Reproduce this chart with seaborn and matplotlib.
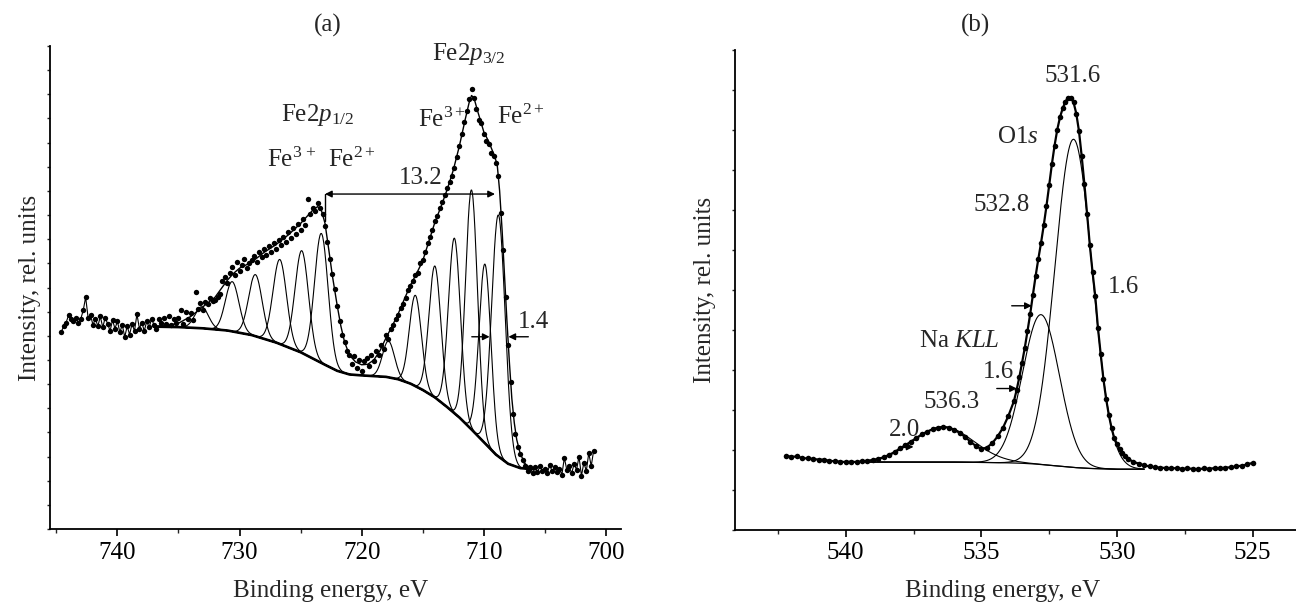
import numpy as np
import seaborn as sns
import matplotlib.pyplot as plt
from matplotlib.ticker import MultipleLocator

# ---------------- (a) Fe2p ----------------
# measured points, 0.2 eV grid starting at 744.6 eV (read off the picture)
fe_start, fe_step = 744.6, 0.2
fe_counts = [
    8.15, 8.40, 8.55, 8.85, 8.70, 8.60, 8.75, 8.55, 8.70, 9.05,
    9.60, 8.75, 8.85, 8.45, 8.70, 8.40, 8.80, 8.35, 8.75, 8.50,
    8.20, 8.65, 8.30, 8.60, 8.15, 8.45, 7.95, 8.40, 8.05, 8.50,
    8.20, 8.90, 8.30, 8.55, 8.20, 8.60, 8.35, 8.70, 8.45,
    8.30, 8.70, 8.55, 8.75, 8.50, 8.80, 8.45, 8.70, 8.55, 8.75,
    9.05, 8.50, 9.00, 8.70, 8.95, 8.65, 9.80, 9.10, 9.35, 9.05,
    9.40, 9.30, 9.55, 9.45, 9.50, 9.60, 9.75, 10.25, 10.45, 10.20,
    10.60, 10.85, 10.50, 11.05, 10.70, 10.95, 11.20, 10.80, 11.00, 11.15,
    11.30, 11.05, 11.45, 11.25, 11.60, 11.35, 11.70, 11.45, 11.85, 11.60,
    11.95, 11.75, 12.10, 11.90, 12.30, 12.05, 12.45, 12.20, 12.65, 12.40,
    12.85, 12.60, 13.65, 13.05, 13.30, 13.15, 13.50, 13.30, 13.05,
    12.55, 11.90, 11.20, 10.55, 9.95, 9.25, 8.60, 8.05, 7.75, 7.35,
    7.20, 6.85, 7.15, 6.65, 7.00, 6.55, 6.95, 7.10, 6.75, 7.20,
    6.95, 7.35, 7.20, 7.60, 7.45, 8.05, 7.85, 8.30, 8.45, 8.70,
    8.85, 9.15, 9.30, 9.55, 9.90, 10.05, 10.25, 10.50, 10.60, 11.00,
    11.15, 11.45, 11.85, 12.10, 12.40, 12.75, 12.95, 13.30, 13.55, 13.85,
    14.10, 14.35, 14.60, 14.95, 15.40, 15.85,
    16.35, 16.85, 17.30, 17.80, 18.20, 17.85, 17.40, 16.95, 16.80, 16.35,
    16.05, 15.95, 15.55, 15.45, 15.15, 14.60, 13.10, 11.55, 9.60, 7.60,
    6.10, 4.75, 3.95, 3.40, 3.10,
    2.85, 2.60, 2.40, 2.55, 2.30, 2.55, 2.35, 2.60, 2.40, 2.50,
    2.30, 2.65, 2.40, 2.55, 2.35, 2.50, 2.25, 2.95, 2.45, 2.60,
    2.30, 2.70, 2.45, 3.00, 2.20, 2.75, 2.40, 3.15, 2.60, 3.25,
]
fe_energy = np.round(fe_start - fe_step * np.arange(len(fe_counts)), 1)

# fitted envelope
fe_fit_energy = [737.0, 736.0, 735.0, 734.0, 733.0, 732.0, 731.5, 731.0, 730.5, 730.0,
                 729.0, 728.0, 727.0, 726.0, 725.0, 724.5, 724.0, 723.6, 723.3, 723.0,
                 722.7, 722.4, 722.0, 721.7, 721.4, 721.0, 720.5, 720.0, 719.5, 719.0,
                 718.5, 718.0, 717.5, 717.0, 716.5, 716.0, 715.5, 715.0, 714.5, 714.0,
                 713.5, 713.0, 712.5, 712.0, 711.5, 711.2, 711.0, 710.8, 710.5, 710.2,
                 710.0, 709.6, 709.2, 708.9, 708.7, 708.5, 708.3, 708.1, 707.9, 707.7,
                 707.5, 707.3, 707.0, 706.6, 706.2, 705.8]
fe_fit_counts = [8.40, 8.42, 8.52, 8.80, 9.20, 9.60, 9.95, 10.30, 10.58, 10.80,
                 11.05, 11.45, 11.78, 12.18, 12.65, 12.93, 13.20, 13.35, 13.20, 12.66,
                 11.60, 10.50, 9.25, 8.40, 7.75, 7.20, 6.92, 6.80, 6.82, 7.00,
                 7.38, 7.92, 8.40, 8.92, 9.52, 10.10, 10.58, 11.10, 11.90, 12.70,
                 13.35, 14.05, 14.85, 15.85, 17.00, 17.65, 17.95, 17.85, 17.30, 16.80,
                 16.45, 16.05, 15.55, 15.10, 14.00, 12.40, 10.50, 8.60, 6.90, 5.40,
                 4.40, 3.70, 3.10, 2.70, 2.52, 2.48]

# background
fe_bg_energy = [737.0, 735.0, 733.0, 731.0, 729.0, 727.0, 725.0, 723.0, 722.0, 721.0,
                720.0, 719.0, 718.0, 717.0, 716.0, 715.0, 714.0, 713.0, 712.0, 711.0,
                710.0, 709.0, 708.0, 707.0, 706.0, 705.8]
fe_bg_counts = [8.38, 8.36, 8.31, 8.22, 8.03, 7.72, 7.32, 6.80, 6.55, 6.40,
                6.36, 6.33, 6.30, 6.20, 6.02, 5.76, 5.45, 5.05, 4.62, 4.12,
                3.60, 3.08, 2.70, 2.52, 2.48, 2.48]

# fitted components: position, height above background, FWHM
fe_peak_pos = [733.1, 730.6, 728.7, 726.7, 724.9, 723.3,
               717.8, 715.6, 714.0, 712.4, 711.0, 709.9, 708.8]
fe_peak_height = [0.89, 2.06, 2.55, 3.50, 4.23, 5.36,
                  1.50, 3.76, 5.44, 7.25, 9.92, 7.42, 10.0]
fe_peak_fwhm = [1.3, 1.3, 1.3, 1.3, 1.3, 1.3,
                1.15, 1.15, 1.15, 1.15, 1.15, 1.15, 1.3]

# ---------------- (b) O1s ----------------
o_counts_left = [1.86, 1.83, 1.84, 1.80, 1.79, 1.78, 1.76, 1.76, 1.73, 1.72,
                 1.71, 1.70, 1.71, 1.70, 1.72, 1.73, 1.75, 1.78, 1.82, 1.88,
                 1.95, 2.04, 2.12, 2.21, 2.30, 2.39, 2.46, 2.52, 2.56, 2.58,
                 2.56, 2.51, 2.43, 2.33, 2.21, 2.10, 2.03, 2.06, 2.17, 2.34,
                 2.56, 2.86]           # 542.2 ... 534.0, step 0.2
o_counts_peak = [3.22, 3.50, 3.82, 4.18, 4.55, 4.97, 5.40, 5.88, 6.35,
                 6.78, 7.18, 7.62, 8.10, 8.62, 9.15, 9.62, 10.02, 10.33, 10.55,
                 10.72, 10.82, 10.82, 10.70, 10.42, 9.98, 9.35, 8.65, 7.90, 7.12,
                 6.45, 5.85, 5.05, 4.40, 3.78, 3.28, 2.88, 2.55, 2.30, 2.15,
                 2.02, 1.92, 1.85, 1.78]  # 533.8 ... 529.6, step 0.1
o_counts_right = [1.71, 1.66, 1.62, 1.59, 1.57, 1.56, 1.55, 1.54, 1.55, 1.53,
                  1.54, 1.53, 1.52, 1.54, 1.53, 1.55, 1.54, 1.56, 1.57, 1.59,
                  1.61, 1.64, 1.68]      # 529.4 ... 525.0, step 0.2
o_energy = np.concatenate([
    np.round(542.2 - 0.2 * np.arange(len(o_counts_left)), 1),
    np.round(533.8 - 0.1 * np.arange(len(o_counts_peak)), 1),
    np.round(529.4 - 0.2 * np.arange(len(o_counts_right)), 1),
])
o_counts = np.array(o_counts_left + o_counts_peak + o_counts_right)

o_bg_energy = [539.2, 538.0, 537.0, 536.0, 535.0, 534.0, 533.5, 533.0, 532.5, 532.0,
               531.5, 531.0, 530.5, 530.0, 529.0]
o_bg_counts = [1.70, 1.70, 1.70, 1.70, 1.69, 1.68, 1.67, 1.65, 1.62, 1.59,
               1.56, 1.54, 1.53, 1.52, 1.52]

o_peak_pos = [536.4, 532.8, 531.6]
o_peak_height = [0.88, 3.75, 8.21]
o_peak_fwhm = [2.6, 1.6, 1.62]

# ---------------- style ----------------
sns.set_theme(style="ticks")
plt.rcParams["font.family"] = ["Liberation Serif", "DejaVu Serif"]
plt.rcParams["mathtext.fontset"] = "custom"
plt.rcParams["mathtext.rm"] = "Liberation Serif"
plt.rcParams["mathtext.it"] = "Liberation Serif:italic"
plt.rcParams["font.size"] = 18
plt.rcParams["axes.linewidth"] = 1.3

fig = plt.figure(figsize=(12.96, 6.08), dpi=100)
ax_a = fig.add_axes([0.03858, 0.12993, 0.44059, 0.79441])
ax_b = fig.add_axes([0.56736, 0.12829, 0.43264, 0.78882])

K = 4 * np.log(2)


def draw_components(ax, bg_e, bg_c, pos, height, fwhm):
    e = np.linspace(max(bg_e), min(bg_e), 800)
    base = np.interp(e, bg_e[::-1], bg_c[::-1])
    for c, h, w in zip(pos, height, fwhm):
        y = base + h * np.exp(-K * ((e - c) / w) ** 2)
        sns.lineplot(x=e, y=y, ax=ax, color="black", linewidth=0.8,
                     sort=False, estimator=None)


# ---- panel (a)
draw_components(ax_a, fe_bg_energy, fe_bg_counts, fe_peak_pos, fe_peak_height, fe_peak_fwhm)
sns.lineplot(x=fe_bg_energy, y=fe_bg_counts, ax=ax_a, color="black", linewidth=1.9,
             sort=False, estimator=None)
sns.lineplot(x=fe_fit_energy, y=fe_fit_counts, ax=ax_a, color="black", linewidth=1.0,
             sort=False, estimator=None)
fe_counts = np.array(fe_counts)
left = fe_energy >= 737.0
right = fe_energy <= 706.8
for m in (left, right):
    sns.lineplot(x=fe_energy[m], y=fe_counts[m], ax=ax_a, color="black", linewidth=0.8,
                 sort=False, estimator=None)
sns.scatterplot(x=fe_energy, y=fe_counts, ax=ax_a, color="black", s=15, linewidth=0)

ax_a.set_xlim(745.52, 698.76)
ax_a.set_ylim(0, 20)
ax_a.xaxis.set_major_locator(MultipleLocator(10))
ax_a.xaxis.set_minor_locator(MultipleLocator(5))
ax_a.yaxis.set_major_locator(MultipleLocator(1))

ax_a.text(0.4865, 1.043, "(a)", transform=ax_a.transAxes, ha="center", va="center")
ax_a.text(711.2, 19.66, r"Fe2$p_{3/2}$", ha="center", va="center")
ax_a.text(723.6, 17.14, r"Fe2$p_{1/2}$", ha="center", va="center")
ax_a.text(725.7, 15.28, r"Fe$^{3\,+}$", ha="center", va="center")
ax_a.text(720.8, 15.28, r"Fe$^{2+}$", ha="center", va="center")
ax_a.text(713.4, 16.94, r"Fe$^{3+}$", ha="center", va="center")
ax_a.text(707.0, 17.07, r"Fe$^{2+}$", ha="center", va="center")
ax_a.text(715.2, 14.52, "13.2", ha="center", va="center")
ax_a.text(705.9, 8.58, "1.4", ha="center", va="center")

ax_a.annotate("", xy=(709.08, 13.87), xytext=(723.0, 13.87),
              arrowprops=dict(arrowstyle="<|-|>", color="black", lw=1.0,
                              shrinkA=0, shrinkB=0, mutation_scale=10))
ax_a.plot([723.0, 723.0], [13.87, 12.75], color="black", lw=1.0)
ax_a.annotate("", xy=(709.52, 7.96), xytext=(710.98, 7.96),
              arrowprops=dict(arrowstyle="-|>", color="black", lw=1.0,
                              shrinkA=0, shrinkB=0, mutation_scale=10))
ax_a.annotate("", xy=(707.98, 7.96), xytext=(706.35, 7.96),
              arrowprops=dict(arrowstyle="-|>", color="black", lw=1.0,
                              shrinkA=0, shrinkB=0, mutation_scale=10))

# ---- panel (b)
draw_components(ax_b, o_bg_energy, o_bg_counts, o_peak_pos, o_peak_height, o_peak_fwhm)
sns.lineplot(x=o_bg_energy, y=o_bg_counts, ax=ax_b, color="black", linewidth=0.9,
             sort=False, estimator=None)
sns.lineplot(x=o_energy, y=o_counts, ax=ax_b, color="black", linewidth=1.6,
             sort=False, estimator=None)
sns.scatterplot(x=o_energy, y=o_counts, ax=ax_b, color="black", s=16, linewidth=0)

ax_b.set_xlim(544.07, 523.4)
ax_b.set_ylim(0, 12)
ax_b.xaxis.set_major_locator(MultipleLocator(5))
ax_b.xaxis.set_minor_locator(MultipleLocator(2.5))
ax_b.yaxis.set_major_locator(MultipleLocator(1))

ax_b.text(0.428, 1.0525, "(b)", transform=ax_b.transAxes, ha="center", va="center")
ax_b.text(531.64, 11.36, "531.6", ha="center", va="center")
ax_b.text(533.64, 9.83, r"O1$s$", ha="center", va="center")
ax_b.text(534.25, 8.13, "532.8", ha="center", va="center")
ax_b.text(529.76, 6.08, "1.6", ha="center", va="center")
ax_b.text(535.82, 4.72, r"Na $KLL$", ha="center", va="center")
ax_b.text(534.37, 3.96, "1.6", ha="center", va="center")
ax_b.text(536.09, 3.21, "536.3", ha="center", va="center")
ax_b.text(537.85, 2.50, "2.0", ha="center", va="center")
for x0, x1, yy in [(533.88, 533.14, 5.61), (534.43, 533.69, 3.54), (538.0, 537.5, 2.08)]:
    ax_b.annotate("", xy=(x1, yy), xytext=(x0, yy),
                  arrowprops=dict(arrowstyle="-|>", color="black", lw=1.0,
                                  shrinkA=0, shrinkB=0, mutation_scale=10))

# ---- common axes look
for ax, ylx, xlx, xly in [(ax_a, -0.015, 0.492, -0.106), (ax_b, -0.034, 0.476, -0.105)]:
    sns.despine(ax=ax)
    ax.set_xlabel("Binding energy, eV", fontsize=18)
    ax.set_ylabel("Intensity, rel. units", fontsize=18)
    ax.yaxis.set_label_coords(ylx, 0.5)
    ax.xaxis.set_label_coords(xlx, xly)
    ax.tick_params(axis="x", which="major", direction="out", length=5, width=1.2,
                   pad=4, labelsize=18, colors="black")
    ax.tick_params(axis="x", which="minor", direction="out", length=3, width=1.0)
    ax.tick_params(axis="y", which="major", direction="out", length=2.5, width=1.0,
                   labelleft=False)
    for s in ax.spines.values():
        s.set_color("black")

fig.savefig("out.png", dpi=100)
